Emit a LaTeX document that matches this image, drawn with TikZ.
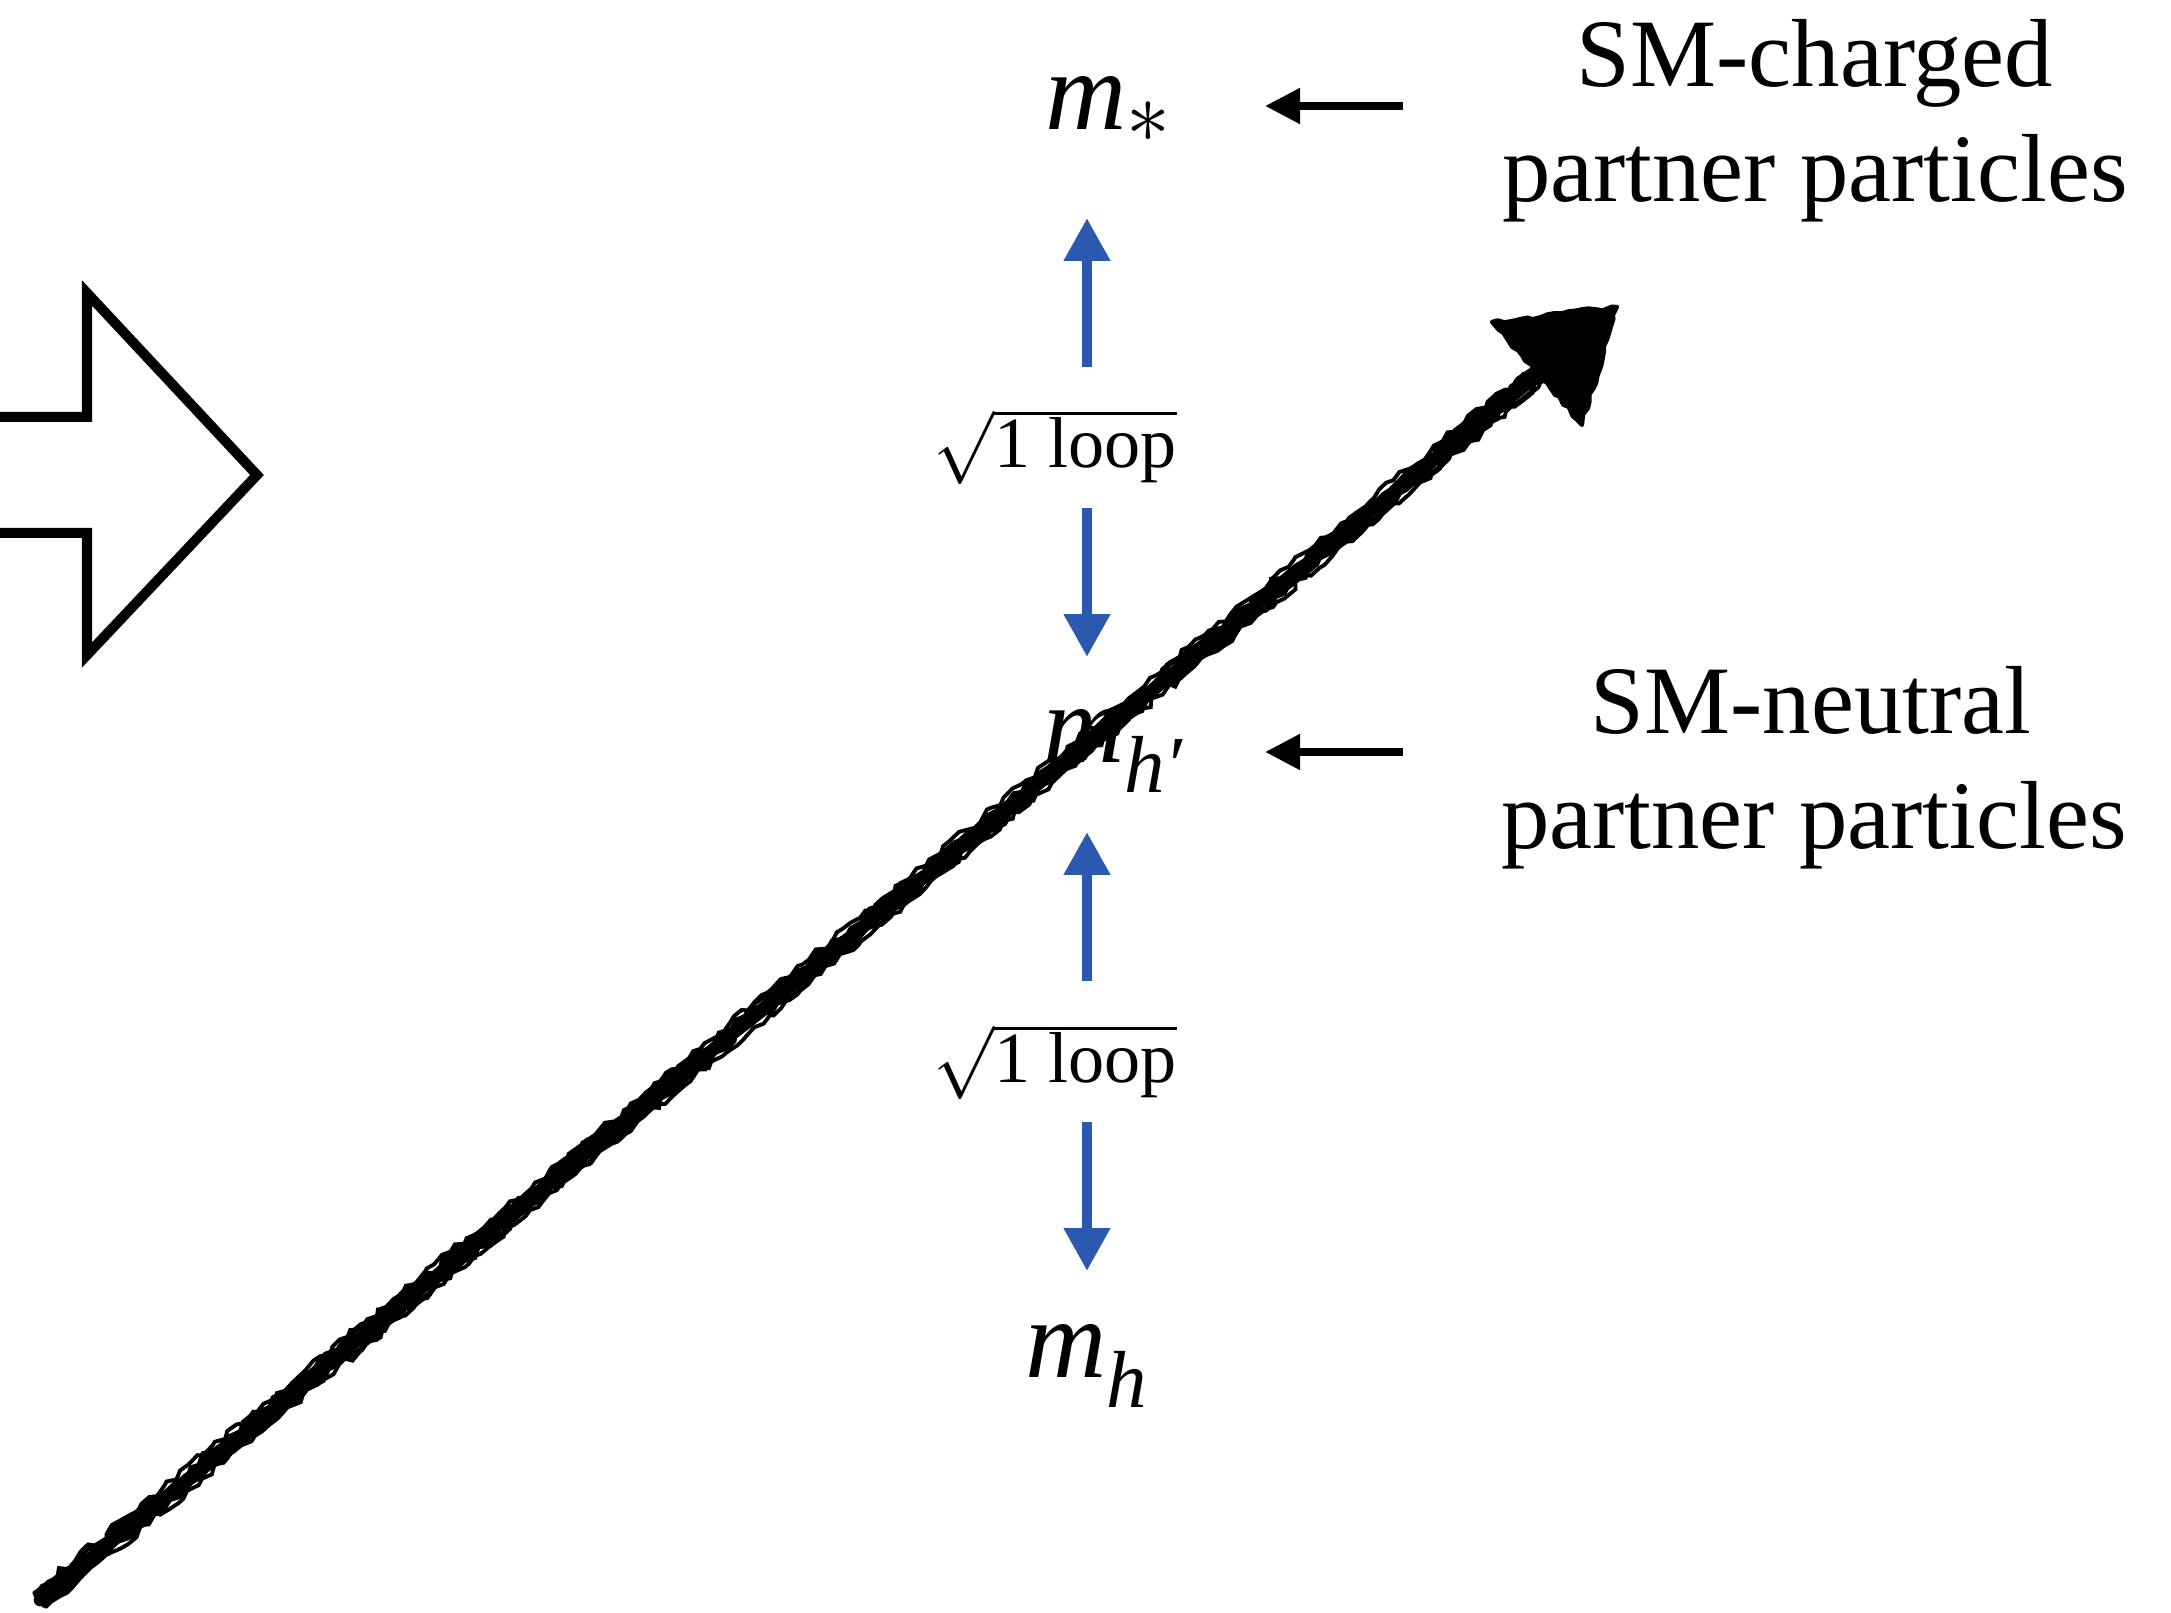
\documentclass[tikz,border=0pt]{standalone}
\usepackage{fontspec}
\setmainfont{Liberation Serif}
\usetikzlibrary{arrows.meta,decorations.pathmorphing}
\definecolor{loopblue}{RGB}{42,89,175}
\tikzset{
  txtlbl/.style={inner sep=0pt, outer sep=0pt, anchor=base, font=\fontsize{27.5}{33}\selectfont},
  masslbl/.style={inner sep=0pt, outer sep=0pt, anchor=base west},
  looplbl/.style={inner sep=0pt, outer sep=0pt, anchor=base, font=\fontsize{20.5}{24}\selectfont},
  bluearrow/.style={draw=loopblue, line width=3pt, -{Triangle[width=12.5pt,length=12.2pt]}},
  pointarrow/.style={draw=black, line width=2.3pt, -{Triangle[width=9.7pt,length=10pt]}},
  sketchline/.style={draw=black, line width=1.6pt, line cap=round, decorate, decoration={random steps, segment length=2.5pt, amplitude=1pt}},
  sketchfill/.style={fill=black, draw=black, line width=1.2pt, line join=round, decorate, decoration={random steps, segment length=2pt, amplitude=0.6pt}},
  hollowarrow/.style={draw=black, line width=2.85pt, line join=miter}
}
\newcommand{\massm}{{\fontsize{32}{36}\selectfont\itshape m}}
\begin{document}
\begin{tikzpicture}[x=0.01cm, y=-0.01cm]
\useasboundingbox (0,0) rectangle (2171,1613);

% hollow block arrow on the left
\draw[hollowarrow] (-20,417) -- (87,417) -- (87,293) -- (257,475) -- (87,655) -- (87,533) -- (-20,533);

% sketchy big arrow
\pgfmathsetseed{11}
\coordinate (arrS) at (40,1600);
\coordinate (arrE) at (1545,369);
\coordinate (arrT) at (1617,307);
\coordinate (hl) at (1492,322);
\coordinate (hr) at (1582,425);
\draw[line width=3.6pt, line cap=round] (arrS) -- (arrE);
\draw[sketchline] ([shift={(4,5)}]arrS) -- ([shift={(4,5)}]arrE);
\draw[sketchline] ([shift={(-4,-5)}]arrS) -- ([shift={(-4,-5)}]arrE);
\draw[sketchline, line width=1.1pt] ([shift={(6,7)}]arrS) -- ([shift={(6,7)}]arrE);
\draw[sketchline, line width=1.1pt] ([shift={(-6,-7)}]arrS) -- ([shift={(-6,-7)}]arrE);
\fill (hl) -- (arrT) -- (hr) -- cycle;
\path[sketchfill] (hl) -- (arrT) -- (hr) -- cycle;

% mass labels
\node[masslbl] (mstar) at (1045,130) {\massm\raisebox{-3.5pt}{\fontsize{26}{28}\selectfont$\ast$}};
\node[masslbl] (mhp) at (1043,763) {\massm\raisebox{-8.5pt}{\fontsize{23}{25}\selectfont\itshape h′}};
\node[masslbl] (mh) at (1025,1378) {\massm\raisebox{-8.5pt}{\fontsize{23}{25}\selectfont\itshape h}};

% loop labels
\node[looplbl] (loop1) at (1055,468) {$\sqrt{\mbox{1 loop}}$};
\node[looplbl] (loop2) at (1055,1083) {$\sqrt{\mbox{1 loop}}$};

% blue arrows
\coordinate (b1s) at (1087,367);
\coordinate (b1t) at (1087,218);
\coordinate (b2s) at (1087,508);
\coordinate (b2t) at (1087,657);
\coordinate (b3s) at (1087,981);
\coordinate (b3t) at (1087,832);
\coordinate (b4s) at (1087,1122);
\coordinate (b4t) at (1087,1271);
\draw[bluearrow] (b1s) -- (b1t);
\draw[bluearrow] (b2s) -- (b2t);
\draw[bluearrow] (b3s) -- (b3t);
\draw[bluearrow] (b4s) -- (b4t);

% right-hand labels
\node[txtlbl] (charged1) at (1815,87) {SM-charged};
\node[txtlbl] (charged2) at (1815,202) {partner particles};
\node[txtlbl] (neutral1) at (1811,734) {SM-neutral};
\node[txtlbl] (neutral2) at (1814,849) {partner particles};

% pointer arrows
\coordinate (p1s) at (1403,106);
\coordinate (p1t) at (1265,106);
\coordinate (p2s) at (1403,752);
\coordinate (p2t) at (1265,752);
\draw[pointarrow] (p1s) -- (p1t);
\draw[pointarrow] (p2s) -- (p2t);
\end{tikzpicture}
\end{document}
